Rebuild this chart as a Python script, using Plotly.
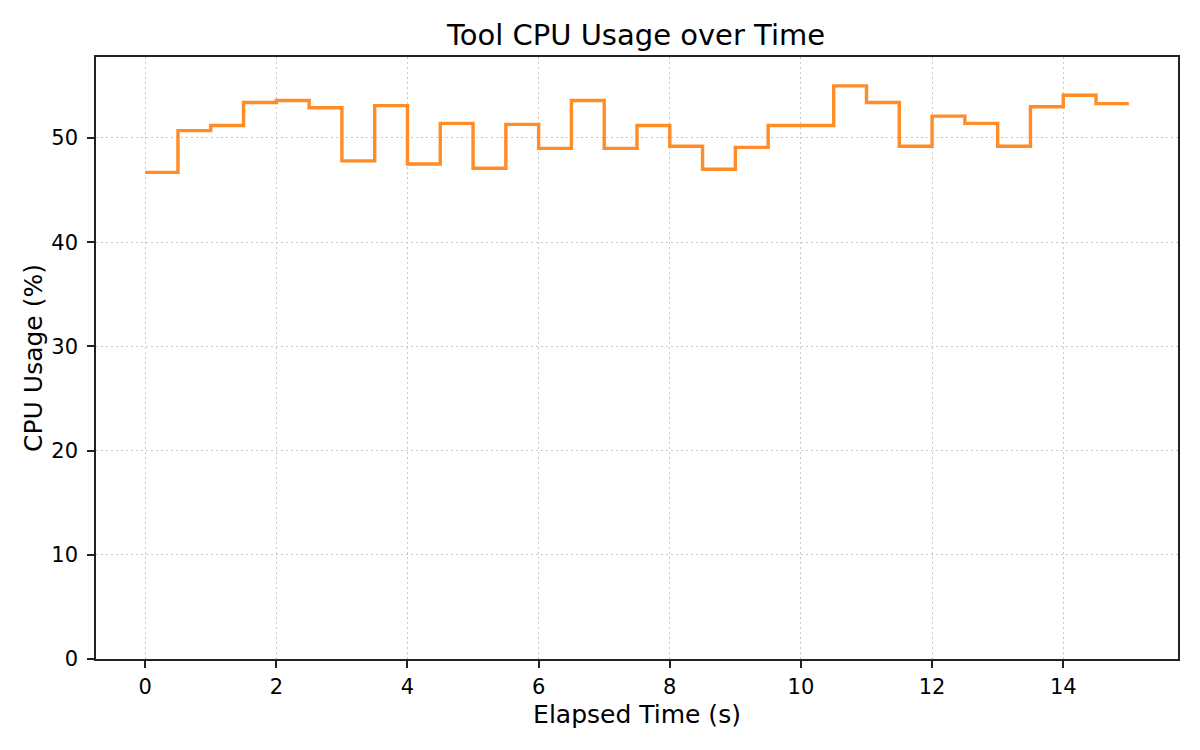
import plotly.graph_objects as go

# Tool CPU usage sampled every 0.5 s, drawn as a post-step line

elapsed_s = [0.0, 0.5, 1.0, 1.5, 2.0, 2.5, 3.0, 3.5, 4.0, 4.5, 5.0,
             5.5, 6.0, 6.5, 7.0, 7.5, 8.0, 8.5, 9.0, 9.5, 10.0,
             10.5, 11.0, 11.5, 12.0, 12.5, 13.0, 13.5, 14.0, 14.5, 15.0]
cpu_pct = [46.7, 50.7, 51.2, 53.4, 53.6, 52.9, 47.8, 53.1, 47.5, 51.4, 47.1,
           51.3, 49.0, 53.6, 49.0, 51.2, 49.2, 47.0, 49.1, 51.2, 51.2,
           55.0, 53.4, 49.2, 52.1, 51.4, 49.2, 53.0, 54.1, 53.3, 53.3]

x_ticks = [0, 2, 4, 6, 8, 10, 12, 14]
y_ticks = [0, 10, 20, 30, 40, 50]

fig = go.Figure(go.Scatter(
    x=elapsed_s, y=cpu_pct, mode="lines",
    line=dict(color="#ff8c26", width=3.4, shape="hv"),
    showlegend=False,
))

axis_style = dict(
    showline=True, linecolor="#222", linewidth=1.6, mirror=True,
    ticks="outside", ticklen=7, tickwidth=1.6, tickcolor="#222",
    showgrid=True, gridcolor="#c8c8c8", griddash="2px,3px", gridwidth=1,
    zeroline=False, tickfont=dict(size=21, color="black"),
)

# page body has an 8px margin, so the figure is shrunk and shifted to fit
fig.update_layout(
    width=1184, height=734,
    paper_bgcolor="white", plot_bgcolor="white",
    font=dict(family="DejaVu Sans", color="black"),
    margin=dict(l=88, r=14, t=49, b=83),
    title=dict(text="Tool CPU Usage over Time", x=(636 - 8) / 1184, xanchor="center",
               y=1 - 27 / 734, yanchor="middle", yref="container",
               font=dict(size=29)),
)
fig.update_xaxes(axis_style, range=[-0.75, 15.75], tickvals=x_ticks,
                 ticklabelstandoff=1,
                 title=dict(text="Elapsed Time (s)", font=dict(size=25), standoff=7))
fig.update_yaxes(axis_style, range=[0, 57.77], tickvals=y_ticks,
                 ticklabelstandoff=5,
                 title=dict(text="CPU Usage (%)", font=dict(size=25), standoff=2))

fig.write_html("out.html")
